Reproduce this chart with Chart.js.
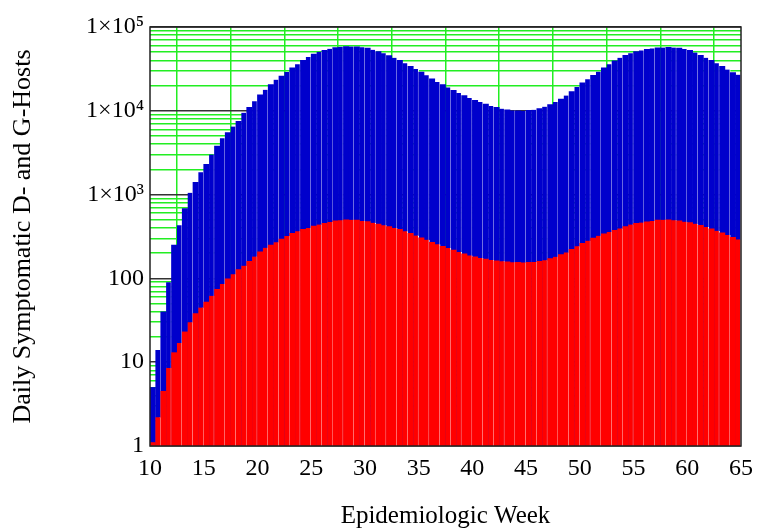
<!DOCTYPE html>
<html>
<head>
<meta charset="utf-8">
<script src="https://cdn.jsdelivr.net/npm/chart.js@4"></script>
<style>
  html, body { margin: 0; padding: 0; background: #fff; }
  #wrap { width: 757px; height: 529px; }
</style>
</head>
<body>
<div id="wrap"><canvas id="hosts"></canvas></div>
<script>
// half-week bins, centre of each bin (epidemiologic week)
const weeks = [
  10.25,10.75,11.25,11.75,12.25,12.75,13.25,13.75,14.25,14.75,
  15.25,15.75,16.25,16.75,17.25,17.75,18.25,18.75,19.25,19.75,
  20.25,20.75,21.25,21.75,22.25,22.75,23.25,23.75,24.25,24.75,
  25.25,25.75,26.25,26.75,27.25,27.75,28.25,28.75,29.25,29.75,
  30.25,30.75,31.25,31.75,32.25,32.75,33.25,33.75,34.25,34.75,
  35.25,35.75,36.25,36.75,37.25,37.75,38.25,38.75,39.25,39.75,
  40.25,40.75,41.25,41.75,42.25,42.75,43.25,43.75,44.25,44.75,
  45.25,45.75,46.25,46.75,47.25,47.75,48.25,48.75,49.25,49.75,
  50.25,50.75,51.25,51.75,52.25,52.75,53.25,53.75,54.25,54.75,
  55.25,55.75,56.25,56.75,57.25,57.75,58.25,58.75,59.25,59.75,
  60.25,60.75,61.25,61.75,62.25,62.75,63.25,63.75,64.25,64.75
];

// blue: daily symptomatic D- and G-hosts
const blueHosts = [
  5,14,40,90,250,430,680,1050,1400,1850,
  2300,3000,3800,4700,5500,6500,7500,9500,11000,13000,
  15500,17800,20500,23500,26000,29000,32500,36000,40000,44000,
  47500,50500,52500,55000,57000,58000,58500,58500,58000,57500,
  56000,53500,51000,48500,45500,43000,40000,37000,34000,31500,
  29000,26500,24000,22000,20500,19000,17500,16300,15200,14200,
  13300,12700,12000,11400,11000,10600,10300,10100,10000,10000,
  10100,10300,10600,11200,11900,12700,13800,15200,17000,19200,
  21500,23800,26500,29300,32500,36000,39500,43000,46000,48700,
  50800,52500,54000,55500,56500,57000,57200,57000,56000,54500,
  52500,49500,46000,43000,40000,37000,34000,31000,28500,27000
];

// red: daily symptomatic G-hosts
const redHosts = [
  1.1,2.2,4.5,8.5,13,17,23,30,38,45,
  52,62,74,86,99,112,127,142,160,182,
  208,232,250,270,295,320,345,365,385,400,
  420,440,455,470,485,495,500,500,495,485,
  475,460,445,430,415,400,385,365,345,325,
  305,290,270,255,242,230,218,206,196,188,
  181,175,170,166,162,160,158,156,155,155,
  155,157,160,165,172,181,192,204,222,242,
  262,282,302,322,340,358,375,395,415,440,
  455,465,472,485,495,500,500,495,485,475,
  465,450,430,410,390,370,350,330,310,292
];

const decadeLabels = ['1', '10', '100', '1×10³', '1×10⁴', '1×10⁵'];
const xTicks = [10, 15, 20, 25, 30, 35, 40, 45, 50, 55, 60, 65];

const serif = '"Liberation Serif", "Times New Roman", serif';

// white seam once a week, like the original rendering
function seam(ctx) {
  return ctx.dataIndex % 2 === 1 ? { left: 0, right: 1, top: 0, bottom: 0 } : 0;
}

const frame = {
  id: 'frame',
  afterDraw(chart) {
    const a = chart.chartArea;
    const c = chart.ctx;
    c.save();
    c.strokeStyle = '#222';
    c.lineWidth = 1.5;
    c.strokeRect(a.left, a.top, a.right - a.left, a.bottom - a.top);
    c.restore();
  }
};

new Chart(document.getElementById('hosts'), {
  type: 'bar',
  data: {
    datasets: [
      {
        label: 'G-Hosts',
        data: weeks.map((w, i) => ({ x: w, y: redHosts[i] })),
        backgroundColor: '#ff0000',
        borderColor: '#ffffff',
        borderWidth: seam,
        borderSkipped: false,
        grouped: false,
        barPercentage: 1,
        categoryPercentage: 1,
      },
      {
        label: 'D- and G-Hosts',
        data: weeks.map((w, i) => ({ x: w, y: blueHosts[i] })),
        backgroundColor: '#0000cc',
        borderColor: '#ffffff',
        borderWidth: seam,
        borderSkipped: false,
        grouped: false,
        barPercentage: 1,
        categoryPercentage: 1,
      },
    ],
  },
  options: {
    responsive: true,
    maintainAspectRatio: false,
    animation: false,
    layout: { padding: { left: 0, top: 27, right: 16, bottom: 0 } },
    plugins: {
      legend: { display: false },
      tooltip: { enabled: false },
    },
    scales: {
      x: {
        type: 'linear',
        min: 10,
        max: 65,
        offset: false,
        afterFit: (s) => {
          s.height = 83;
          s.paddingLeft = 0;
          s.paddingRight = 0;
        },
        afterBuildTicks: (s) => { s.ticks = xTicks.map(v => ({ value: v })); },
        ticks: {
          autoSkip: false,
          maxRotation: 0,
          padding: 8,
          color: '#000',
          font: { family: serif, size: 24 },
        },
        grid: {
          color: '#22ee22',
          lineWidth: 1.5,
          drawTicks: false,
        },
        border: { display: false },
        title: {
          display: true,
          text: 'Epidemiologic Week',
          color: '#000',
          font: { family: serif, size: 25, lineHeight: 1 },
          padding: { top: 0, bottom: 0 },
        },
      },
      y: {
        type: 'logarithmic',
        min: 1,
        max: 100000,
        afterFit: (s) => {
          s.width = 150;
          s.paddingTop = 0;
          s.paddingBottom = 0;
        },
        afterBuildTicks: (s) => {
          const t = [];
          for (let e = 0; e < 5; e++) {
            for (let k = 1; k < 10; k++) t.push({ value: k * Math.pow(10, e) });
          }
          t.push({ value: 100000 });
          s.ticks = t;
        },
        ticks: {
          autoSkip: false,
          padding: 6,
          color: '#000',
          font: { family: serif, size: 24 },
          callback: (v) => {
            const e = Math.log10(v);
            return Math.abs(e - Math.round(e)) < 1e-9 ? decadeLabels[Math.round(e)] : '';
          },
        },
        grid: {
          color: (c) => {
            const e = Math.log10(c.tick.value);
            return Math.abs(e - Math.round(e)) < 1e-9 ? '#333' : '#22ee22';
          },
          lineWidth: 1.5,
          drawTicks: false,
        },
        border: { display: false },
        title: {
          display: true,
          text: 'Daily Symptomatic D- and G-Hosts',
          color: '#000',
          font: { family: serif, size: 26, lineHeight: 1 },
          padding: { top: 10, bottom: 0 },
        },
      },
    },
  },
  plugins: [frame],
});
</script>
</body>
</html>
